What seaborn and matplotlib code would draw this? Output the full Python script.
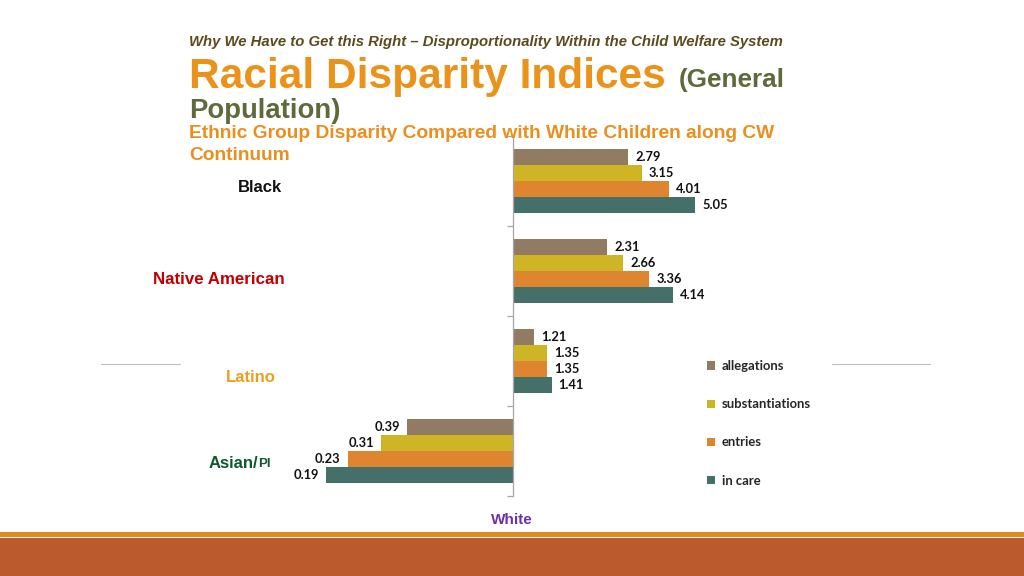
import numpy as np
import pandas as pd
import seaborn as sns
import matplotlib
matplotlib.use("Agg")
import matplotlib.pyplot as plt
from matplotlib.patches import Rectangle
from matplotlib.lines import Line2D

# ---- data ----
groups = ["Black", "Native American", "Latino", "Asian/PI"]
measures = ["allegations", "substantiations", "entries", "in care"]
allegations = [2.79, 2.31, 1.21, 0.39]
substantiations = [3.15, 2.66, 1.35, 0.31]
entries = [4.01, 3.36, 1.35, 0.23]
in_care = [5.05, 4.14, 1.41, 0.19]
colors = ["#917c63", "#cdb526", "#e0852f", "#45706a"]

series = [allegations, substantiations, entries, in_care]
rows = []
for m, vals in zip(measures, series):
    for g, v in zip(groups, vals):
        rows.append({"group": g, "measure": m, "value": v, "logv": np.log10(v)})
df = pd.DataFrame(rows)

sns.set_theme(style="white")
plt.rcParams["font.family"] = ["Liberation Sans", "DejaVu Sans"]

fig = plt.figure(figsize=(10.24, 5.76), dpi=100)
W, H = 1024, 576

def fx(px):
    return px / W

def fy(py):
    return 1 - py / H

ax = fig.add_axes([fx(254), fy(496), fx(772) - fx(254), fy(136) - fy(496)])
sns.barplot(data=df, x="logv", y="group", hue="measure", order=groups,
            hue_order=measures, palette=colors, orient="h", width=0.72,
            gap=0, linewidth=0, saturation=1, ax=ax, errorbar=None, legend=True)
ax.set_xlim(-1, 1)
ax.set_ylim(3.5, -0.5)
ax.set_xlabel("")
ax.set_ylabel("")
ax.set_xticks([])
for s in ["top", "right", "bottom"]:
    ax.spines[s].set_visible(False)
ax.spines["left"].set_position(("data", 0))
ax.spines["left"].set_color("#a6a6a6")
ax.spines["left"].set_linewidth(0.9)
ax.set_yticks([-0.5, 0.5, 1.5, 2.5, 3.5])
ax.set_yticklabels([])
ax.tick_params(axis="y", which="major", left=True, length=4, width=0.9,
               color="#a6a6a6", direction="out")
ax.patch.set_alpha(0)

# value labels
for cont, vals in zip(ax.containers, series):
    ax.bar_label(cont, labels=[f"{v:.2f}" for v in vals], padding=5,
                 fontsize=9.3, fontweight="bold", family="Lato", color="#111111")

# legend
handles, labels = ax.get_legend_handles_labels()
ax.get_legend().remove()
fig.legend(handles, labels, loc="upper left", bbox_to_anchor=(fx(702), fy(355)),
           frameon=False, prop={"family": "Lato", "weight": "bold", "size": 9.4},
           handlelength=0.6, handleheight=0.6, handletextpad=0.5,
           labelspacing=2.0, borderaxespad=0)

# titles
fig.text(fx(189), fy(42), "Why We Have to Get this Right \u2013 Disproportionality Within the Child Welfare System",
         fontsize=10.7, fontweight="bold", style="italic", color="#5c4a1c", va="center", ha="left")
fig.text(fx(189), fy(88), "Racial Disparity Indices", fontsize=30.5, fontweight="bold",
         color="#eb921a", va="baseline", ha="left")
fig.text(fx(679), fy(87), "(General", fontsize=18.8, fontweight="bold",
         color="#5e6a3b", va="baseline", ha="left")
fig.text(fx(189), fy(118), "Population)", fontsize=19.8, fontweight="bold",
         color="#5e6a3b", va="baseline", ha="left")
fig.text(fx(189), fy(134), "Ethnic Group Disparity Compared with White Children along CW",
         fontsize=13.8, fontweight="bold", color="#ea8f1e", va="center", ha="left")
fig.text(fx(189), fy(155), "Continuum",
         fontsize=13.8, fontweight="bold", color="#ea8f1e", va="center", ha="left")

# category labels
fig.text(fx(260), fy(187), "Black", fontsize=12, fontweight="bold", color="#111111",
         ha="center", va="center")
fig.text(fx(285), fy(280), "Native American", fontsize=12.2, fontweight="bold", color="#c00000",
         ha="right", va="center")
fig.text(fx(251), fy(377), "Latino", fontsize=12, fontweight="bold", color="#e8a020",
         ha="center", va="center")
fig.text(fx(258), fy(463), "Asian/", fontsize=12, fontweight="bold", color="#0a5a2c",
         ha="right", va="center")
fig.text(fx(258), fy(464), "PI", fontsize=9.5, fontweight="bold", color="#0a5a2c",
         ha="left", va="center")
fig.text(fx(512), fy(520), "White", fontsize=11, fontweight="bold", color="#7030a0",
         ha="center", va="center")

# decorative lines
fig.add_artist(Line2D([fx(101), fx(180)], [fy(364), fy(364)], color="#bfbfbf", lw=0.8))
fig.add_artist(Line2D([fx(832), fx(930)], [fy(364), fy(364)], color="#bfbfbf", lw=0.8))

# bottom band
fig.add_artist(Rectangle((0, fy(537)), 1, fy(532) - fy(537), transform=fig.transFigure,
                         color="#e2891f", lw=0))
fig.add_artist(Rectangle((0, 0), 1, fy(538), transform=fig.transFigure,
                         color="#bb5a2c", lw=0))

fig.savefig("out.png", dpi=100)
